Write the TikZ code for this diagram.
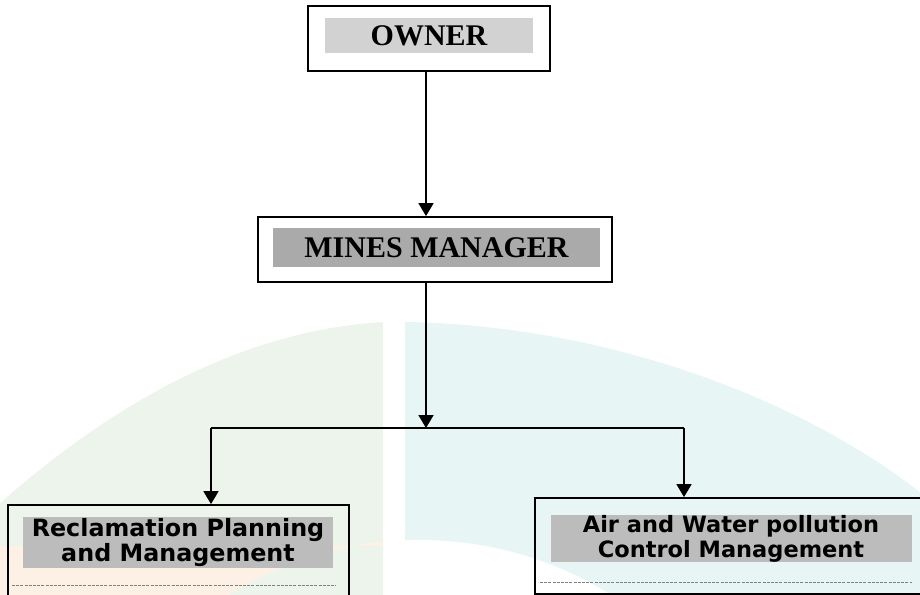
\documentclass[tikz,border=0pt]{standalone}
\usepackage{fontspec}
\setmainfont{Liberation Serif}
\newfontfamily\boxsans{DejaVu Sans}
\usetikzlibrary{arrows.meta}
\definecolor{wmgreen}{RGB}{236,244,236}
\definecolor{wmcyan}{RGB}{231,245,245}
\definecolor{wmorange}{RGB}{253,240,228}
\definecolor{shadeA}{RGB}{210,210,210}
\definecolor{shadeB}{RGB}{170,170,170}
\definecolor{shadeC}{RGB}{188,188,188}
\tikzset{
  outerbox/.style={draw=black, line width=1.8pt, minimum width=#1, inner sep=0pt},
  titlefill/.style={fill=#1, inner sep=0pt, text=black},
  serifttl/.style={font=\fontsize{30}{32}\selectfont\bfseries},
  santtl/.style={font=\boxsans\fontsize{#1}{25}\selectfont\bfseries, align=center},
  arr/.style={line width=1.7pt, -{Triangle[width=15pt,length=13pt]}},
  conn/.style={line width=1.7pt},
  sepline/.style={draw=gray, line width=0.7pt, dash pattern=on 3pt off 1.2pt}
}
\begin{document}
\begin{tikzpicture}[x=1pt,y=-1pt]
\useasboundingbox (0,0) rectangle (920,594);
% faint watermark logo
\begin{scope}
  \clip (-10,700) -- (-10,512) .. controls (120,395) and (250,330) .. (383,322)
        -- (383,700) -- cycle;
  \fill[wmgreen, even odd rule] (-10,0) rectangle (383,546) (420,900) circle[radius=360];
  \fill[wmorange, even odd rule] (-10,546) rectangle (383,700) (420,900) circle[radius=360];
\end{scope}
\begin{scope}
  \clip (405,700) -- (405,322) .. controls (600,325) and (800,395) .. (930,500)
        -- (930,700) -- cycle;
  \fill[wmcyan, even odd rule] (405,0) rectangle (930,700) (420,900) circle[radius=360];
\end{scope}
% boxes
\node[outerbox=242pt, minimum height=65pt] (owner) at (429,38.5) {};
\node[titlefill=shadeA, minimum width=208pt, minimum height=35pt, serifttl] (ownert) at (429,35.5) {OWNER};
\node[outerbox=354pt, minimum height=65pt] (mm) at (435,249.5) {};
\node[titlefill=shadeB, minimum width=327pt, minimum height=39pt, serifttl] (mmt) at (436.5,247.5) {MINES MANAGER};
\node[outerbox=341pt, minimum height=95pt] (left) at (178.5,552.5) {};
\node[titlefill=shadeC, minimum width=310pt, minimum height=51pt, santtl=23.8] (leftt) at (178,542.5) {Reclamation Planning\\and Management};
\node[outerbox=395pt, minimum height=96pt] (right) at (732.5,546) {};
\node[titlefill=shadeC, minimum width=361pt, minimum height=47pt, santtl=22.5] (rightt) at (731,538.5) {Air and Water pollution\\Control Management};
% separator lines inside the lower boxes
\coordinate (lsa) at (12,585);
\coordinate (lsb) at (336,585);
\coordinate (rsa) at (540,582);
\coordinate (rsb) at (912,582);
\draw[sepline] (lsa) -- (lsb);
\draw[sepline] (rsa) -- (rsb);
% connectors
\coordinate (j) at (426,428);
\coordinate (lt) at (211,428);
\coordinate (rt) at (684,428);
\draw[arr] ([xshift=-3pt]owner.south) -- ([xshift=-3pt]owner.south |- mm.north);
\draw[arr] (mm.south -| j) -- (j);
\draw[conn] (lt) -- (rt);
\draw[arr] (lt) -- (lt |- left.north);
\draw[arr] (rt) -- (rt |- right.north);
\end{tikzpicture}
\end{document}
